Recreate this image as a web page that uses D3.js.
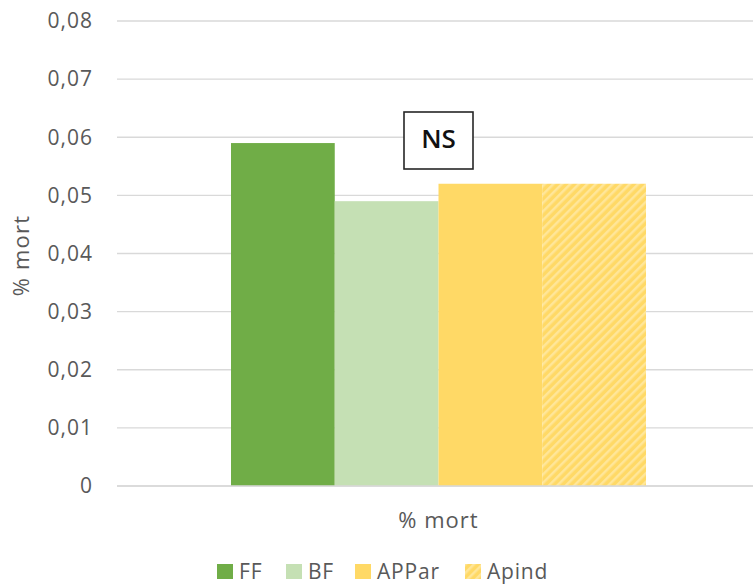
<!DOCTYPE html>
<html>
<head>
<meta charset="utf-8">
<script src="https://cdn.jsdelivr.net/npm/d3@7"></script>
<style>
  body { margin: 0; background: #fff; }
  svg text { font-family: "Open Sans", "Liberation Sans", sans-serif; fill: #595959; }
</style>
</head>
<body>
<svg id="chart" width="753" height="584"></svg>
<script>
// Data
const categories = ['% mort'];
const seriesNames = ['FF', 'BF', 'APPar', 'Apind'];
const seriesValues = [0.059, 0.049, 0.052, 0.052];
const seriesColors = ['#70AD47', '#C5E0B4', '#FFD966', '#FFD966'];
const yTicks = [0, 0.01, 0.02, 0.03, 0.04, 0.05, 0.06, 0.07, 0.08];

const svg = d3.select('#chart');

// Plot area (the right edge runs past the window, as in the reference)
const margin = { top: 21, left: 117, right: -7, bottom: 98 };
const width = 753 - margin.left - margin.right;
const height = 584 - margin.top - margin.bottom;

// Hatch pattern for Apind
const defs = svg.append('defs');
const pat = defs.append('pattern')
  .attr('id', 'hatch')
  .attr('patternUnits', 'userSpaceOnUse')
  .attr('width', 6)
  .attr('height', 6)
  .attr('patternTransform', 'rotate(45)');
pat.append('rect').attr('width', 6).attr('height', 6).attr('fill', '#FFD966');
pat.append('rect').attr('x', 0).attr('width', 2.5).attr('height', 6).attr('fill', '#FFE699');

const g = svg.append('g')
  .attr('transform', `translate(${margin.left},${margin.top})`);

const y = d3.scaleLinear().domain([0, 0.08]).range([height, 0]);
const x0 = d3.scaleBand().domain(categories).range([0, width]).padding(0.2155);
const x1 = d3.scaleBand().domain(seriesNames).range([0, x0.bandwidth()]);

// Gridlines
g.append('g')
  .selectAll('line')
  .data(yTicks)
  .join('line')
  .attr('x1', 0)
  .attr('x2', width)
  .attr('y1', d => y(d))
  .attr('y2', d => y(d))
  .attr('stroke', '#D9D9D9')
  .attr('stroke-width', 1.3);

// Y tick labels
const fmt = d => d === 0 ? '0' : d3.format('.2f')(d).replace('.', ',');
g.append('g')
  .selectAll('text')
  .data(yTicks)
  .join('text')
  .attr('x', -24)
  .attr('y', d => y(d))
  .attr('dy', '0.35em')
  .attr('text-anchor', 'end')
  .attr('font-size', 21)
  .attr('letter-spacing', 1)
  .text(fmt);

// Bars
const bars = seriesNames.map((s, i) => ({ name: s, value: seriesValues[i], color: seriesColors[i] }));
g.append('g')
  .attr('transform', `translate(${x0(categories[0])},0)`)
  .selectAll('rect')
  .data(bars)
  .join('rect')
  .attr('x', d => x1(d.name))
  .attr('y', d => y(d.value))
  .attr('width', x1.bandwidth())
  .attr('height', d => height - y(d.value))
  .attr('fill', d => d.name === 'Apind' ? 'url(#hatch)' : d.color);

// Baseline
g.append('line')
  .attr('x1', 0).attr('x2', width)
  .attr('y1', y(0)).attr('y2', y(0))
  .attr('stroke', '#D9D9D9')
  .attr('stroke-width', 1.5);

// NS box
const nsX = x0(categories[0]) + x0.bandwidth() / 2;
g.append('rect')
  .attr('x', nsX - 34.5)
  .attr('y', 91)
  .attr('width', 69)
  .attr('height', 57)
  .attr('fill', '#fff')
  .attr('stroke', '#262626')
  .attr('stroke-width', 1.6);
g.append('text')
  .attr('x', nsX)
  .attr('y', 118)
  .attr('dy', '0.36em')
  .attr('text-anchor', 'middle')
  .attr('font-size', 26)
  .attr('font-weight', 600)
  .style('fill', '#111')
  .text('NS');

// X category label
g.append('text')
  .attr('x', nsX)
  .attr('y', height + 34)
  .attr('dy', '0.35em')
  .attr('text-anchor', 'middle')
  .attr('font-size', 22)
  .attr('letter-spacing', 1)
  .text(categories[0]);

// Y axis title
svg.append('text')
  .attr('transform', `translate(21,${margin.top + height / 2 + 2}) rotate(-90)`)
  .attr('text-anchor', 'middle')
  .attr('dy', '0.35em')
  .attr('font-size', 22)
  .attr('letter-spacing', 1.2)
  .text('% mort');

// Legend
const legendX = [217, 286, 355, 465];
const legend = svg.append('g')
  .selectAll('g')
  .data(bars)
  .join('g')
  .attr('transform', (d, i) => `translate(${legendX[i]},571.5)`);
legend.append('rect')
  .attr('x', 0).attr('y', -7.5)
  .attr('width', 16).attr('height', 15)
  .attr('fill', d => d.name === 'Apind' ? 'url(#hatch)' : d.color);
legend.append('text')
  .attr('x', 22)
  .attr('dy', '0.35em')
  .attr('font-size', 21)
  .attr('letter-spacing', 0.8)
  .text(d => d.name);
</script>
</body>
</html>
